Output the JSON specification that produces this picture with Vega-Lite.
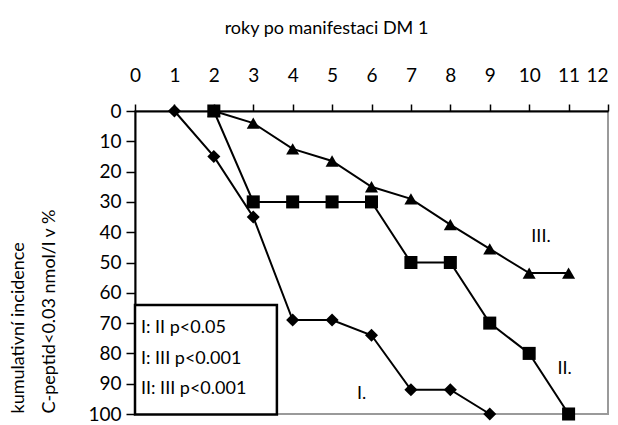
{
  "$schema": "https://vega.github.io/schema/vega-lite/v6.json",
  "width": 473,
  "height": 303,
  "autosize": {"type": "none"},
  "padding": {"left": 135, "top": 111, "right": 10, "bottom": 11},
  "config": {
    "font": "Lato",
    "view": {"stroke": "#9a9a9a", "strokeWidth": 2},
    "axis": {
      "grid": false,
      "domainColor": "black",
      "domainWidth": 2,
      "tickColor": "black",
      "tickWidth": 1.5,
      "labelColor": "black",
      "labelFontSize": 19,
      "labelOverlap": false,
      "labelFlush": false,
      "titleColor": "black",
      "titleFontWeight": "normal",
      "titleFontSize": 18
    }
  },
  "datasets": {
    "series": [
      {"skupina": "I", "rok": 1, "incidence": 0},
      {"skupina": "I", "rok": 2, "incidence": 15},
      {"skupina": "I", "rok": 3, "incidence": 35},
      {"skupina": "I", "rok": 4, "incidence": 69},
      {"skupina": "I", "rok": 5, "incidence": 69},
      {"skupina": "I", "rok": 6, "incidence": 74},
      {"skupina": "I", "rok": 7, "incidence": 92},
      {"skupina": "I", "rok": 8, "incidence": 92},
      {"skupina": "I", "rok": 9, "incidence": 100},
      {"skupina": "II", "rok": 2, "incidence": 0},
      {"skupina": "II", "rok": 3, "incidence": 30},
      {"skupina": "II", "rok": 4, "incidence": 30},
      {"skupina": "II", "rok": 5, "incidence": 30},
      {"skupina": "II", "rok": 6, "incidence": 30},
      {"skupina": "II", "rok": 7, "incidence": 50},
      {"skupina": "II", "rok": 8, "incidence": 50},
      {"skupina": "II", "rok": 9, "incidence": 70},
      {"skupina": "II", "rok": 10, "incidence": 80},
      {"skupina": "II", "rok": 11, "incidence": 100},
      {"skupina": "III", "rok": 2, "incidence": 0},
      {"skupina": "III", "rok": 3, "incidence": 4},
      {"skupina": "III", "rok": 4, "incidence": 12.5},
      {"skupina": "III", "rok": 5, "incidence": 16.5},
      {"skupina": "III", "rok": 6, "incidence": 25},
      {"skupina": "III", "rok": 7, "incidence": 29},
      {"skupina": "III", "rok": 8, "incidence": 37.5},
      {"skupina": "III", "rok": 9, "incidence": 45.5},
      {"skupina": "III", "rok": 10, "incidence": 53.5},
      {"skupina": "III", "rok": 11, "incidence": 53.5}
    ],
    "labels": [
      {"text": "I.", "rok": 5.75, "incidence": 93.5},
      {"text": "II.", "rok": 10.9, "incidence": 85},
      {"text": "III.", "rok": 10.3, "incidence": 41.5}
    ]
  },
  "layer": [
    {
      "data": {"name": "series"},
      "mark": {"type": "line", "color": "black", "strokeWidth": 2},
      "encoding": {
        "x": {
          "field": "rok", "type": "quantitative",
          "scale": {"domain": [0, 12], "nice": false},
          "axis": {"orient": "top", "values": [0, 1, 2, 3, 4, 5, 6, 7, 8, 9, 10, 11, 12], "tickSize": 7, "labelPadding": 19, "labelAlign": {"condition": {"test": "datum.value == 12", "value": "right"}, "value": "center"}, "title": "roky po manifestaci DM 1", "titleX": 191, "titleY": -83, "titleAlign": "center", "titleBaseline": "middle"}
        },
        "y": {
          "field": "incidence", "type": "quantitative",
          "scale": {"domain": [0, 100], "reverse": true, "nice": false},
          "axis": {"orient": "left", "values": [0, 10, 20, 30, 40, 50, 60, 70, 80, 90, 100], "tickSize": 9, "labelPadding": 5, "title": ["kumulativní incidence", "C-peptid<0.03 nmol/l v %"], "titleAngle": -90, "titleAlign": "left", "titleBaseline": "top", "titleLineHeight": 31, "titleX": -126, "titleY": 302}
        },
        "detail": {"field": "skupina"}
      }
    },
    {
      "data": {"name": "series"},
      "mark": {"type": "point", "filled": true, "color": "black", "opacity": 1, "size": 170},
      "encoding": {
        "x": {
          "field": "rok", "type": "quantitative",
          "axis": {"orient": "top", "values": [0, 1, 2, 3, 4, 5, 6, 7, 8, 9, 10, 11, 12], "tickSize": 7, "labelPadding": 19, "labelAlign": {"condition": {"test": "datum.value == 12", "value": "right"}, "value": "center"}, "title": "roky po manifestaci DM 1", "titleX": 191, "titleY": -83, "titleAlign": "center", "titleBaseline": "middle"}
        },
        "y": {
          "field": "incidence", "type": "quantitative",
          "axis": {"orient": "left", "values": [0, 10, 20, 30, 40, 50, 60, 70, 80, 90, 100], "tickSize": 9, "labelPadding": 5, "title": ["kumulativní incidence", "C-peptid<0.03 nmol/l v %"], "titleAngle": -90, "titleAlign": "left", "titleBaseline": "top", "titleLineHeight": 31, "titleX": -126, "titleY": 302}
        },
        "shape": {
          "field": "skupina",
          "type": "nominal",
          "scale": {"domain": ["I", "II", "III"], "range": ["diamond", "square", "triangle-up"]},
          "legend": null
        }
      }
    },
    {
      "data": {"name": "labels"},
      "mark": {"type": "text", "fontSize": 18, "color": "black", "align": "center", "baseline": "middle"},
      "encoding": {
        "x": {
          "field": "rok", "type": "quantitative",
          "axis": {"orient": "top", "values": [0, 1, 2, 3, 4, 5, 6, 7, 8, 9, 10, 11, 12], "tickSize": 7, "labelPadding": 19, "labelAlign": {"condition": {"test": "datum.value == 12", "value": "right"}, "value": "center"}, "title": "roky po manifestaci DM 1", "titleX": 191, "titleY": -83, "titleAlign": "center", "titleBaseline": "middle"}
        },
        "y": {
          "field": "incidence", "type": "quantitative",
          "axis": {"orient": "left", "values": [0, 10, 20, 30, 40, 50, 60, 70, 80, 90, 100], "tickSize": 9, "labelPadding": 5, "title": ["kumulativní incidence", "C-peptid<0.03 nmol/l v %"], "titleAngle": -90, "titleAlign": "left", "titleBaseline": "top", "titleLineHeight": 31, "titleX": -126, "titleY": 302}
        },
        "text": {"field": "text"}
      }
    },
    {
      "data": {"values": [{}]},
      "mark": {"type": "rect", "fill": "white", "stroke": "black", "strokeWidth": 2.5},
      "encoding": {
        "x": {
          "datum": 0, "type": "quantitative",
          "axis": {"orient": "top", "values": [0, 1, 2, 3, 4, 5, 6, 7, 8, 9, 10, 11, 12], "tickSize": 7, "labelPadding": 19, "labelAlign": {"condition": {"test": "datum.value == 12", "value": "right"}, "value": "center"}, "title": "roky po manifestaci DM 1", "titleX": 191, "titleY": -83, "titleAlign": "center", "titleBaseline": "middle"}
        },
        "x2": {"datum": 3.6},
        "y": {
          "datum": 64, "type": "quantitative",
          "axis": {"orient": "left", "values": [0, 10, 20, 30, 40, 50, 60, 70, 80, 90, 100], "tickSize": 9, "labelPadding": 5, "title": ["kumulativní incidence", "C-peptid<0.03 nmol/l v %"], "titleAngle": -90, "titleAlign": "left", "titleBaseline": "top", "titleLineHeight": 31, "titleX": -126, "titleY": 302}
        },
        "y2": {"datum": 100.2}
      }
    },
    {
      "data": {"values": [{"text": ["I: II p<0.05", "I: III p<0.001", "II: III p<0.001"]}]},
      "mark": {"type": "text", "fontSize": 18, "color": "black", "align": "left", "baseline": "middle", "lineHeight": 30.5},
      "encoding": {
        "x": {
          "datum": 0.15, "type": "quantitative",
          "axis": {"orient": "top", "values": [0, 1, 2, 3, 4, 5, 6, 7, 8, 9, 10, 11, 12], "tickSize": 7, "labelPadding": 19, "labelAlign": {"condition": {"test": "datum.value == 12", "value": "right"}, "value": "center"}, "title": "roky po manifestaci DM 1", "titleX": 191, "titleY": -83, "titleAlign": "center", "titleBaseline": "middle"}
        },
        "y": {
          "datum": 71.7, "type": "quantitative",
          "axis": {"orient": "left", "values": [0, 10, 20, 30, 40, 50, 60, 70, 80, 90, 100], "tickSize": 9, "labelPadding": 5, "title": ["kumulativní incidence", "C-peptid<0.03 nmol/l v %"], "titleAngle": -90, "titleAlign": "left", "titleBaseline": "top", "titleLineHeight": 31, "titleX": -126, "titleY": 302}
        },
        "text": {"field": "text"}
      }
    }
  ]
}
